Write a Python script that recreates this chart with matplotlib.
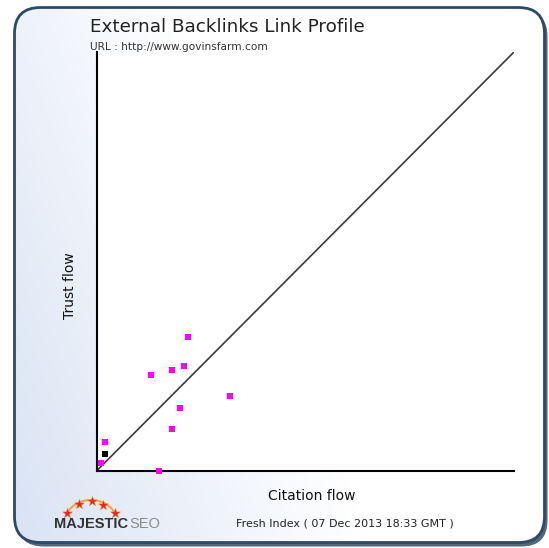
import numpy as np
import matplotlib
matplotlib.use("Agg")
import matplotlib.pyplot as plt
from matplotlib.patches import FancyBboxPatch, Arc

# Data: (citation flow, trust flow)
citation_flow = [22, 13, 18, 21, 32, 20, 18, 2, 1, 15]
trust_flow = [32, 23, 24, 25, 18, 15, 10, 7, 2, 0]
main_citation = [2]
main_trust = [4]
diag = [0, 100]

W, H = 549, 548
fig = plt.figure(figsize=(W / 100, H / 100), dpi=100)

# background layer
bg = fig.add_axes([0, 0, 1, 1])
bg.set_xlim(0, W)
bg.set_ylim(H, 0)
bg.axis("off")

# shadow
shadow = FancyBboxPatch((17.5, 10.5), 530, 536, boxstyle="round,pad=0,rounding_size=26",
                        facecolor="#4f687e", edgecolor="none", zorder=0)
bg.add_patch(shadow)
box = FancyBboxPatch((14.5, 7.5), 530, 535, boxstyle="round,pad=0,rounding_size=26",
                     facecolor="white", edgecolor="none", zorder=1)
bg.add_patch(box)
# gradient
gx = np.linspace(0, 1, 300)
gy = np.linspace(0, 1, 300)
GX, GY = np.meshgrid(gx, gy)
t = np.clip(1 - (GX * 1.5 + (1 - GY) * 0.55), 0, 1)
c0 = np.array([1.0, 1.0, 1.0])
c1 = np.array([0.85, 0.89, 0.955])
img = c0[None, None, :] * (1 - t[..., None]) + c1[None, None, :] * t[..., None]
im = bg.imshow(img, extent=(14.5, 544.5, 542.5, 7.5), zorder=1.5, aspect="auto")
im.set_clip_path(box)
border = FancyBboxPatch((14.5, 7.5), 530, 535, boxstyle="round,pad=0,rounding_size=26",
                        facecolor="none", edgecolor="#2c4a66", linewidth=2.0, zorder=2)
bg.add_patch(border)

# texts
bg.text(90, 27, "External Backlinks Link Profile", fontsize=13.2, color="#222222",
        va="center", ha="left", zorder=3)
bg.text(90, 47, "URL : http://www.govinsfarm.com", fontsize=7.6, color="#333333",
        va="center", ha="left", zorder=3)
bg.text(70, 286, "Trust flow", fontsize=10, rotation=90, color="#111111",
        va="center", ha="center", zorder=3)
bg.text(312, 496, "Citation flow", fontsize=10, color="#111111",
        va="center", ha="center", zorder=3)
bg.text(344.5, 523, "Fresh Index ( 07 Dec 2013 18:33 GMT )", fontsize=8, color="#222222",
        va="center", ha="center", zorder=3)

# logo
bg.text(54, 524, "MAJESTIC", fontsize=10.5, fontweight="bold", color="#333333",
        va="center", ha="left", zorder=3, family="Liberation Sans")
bg.text(129.5, 524, "SEO", fontsize=10.5, color="#8a8a8a", va="center", ha="left",
        zorder=3, family="Liberation Sans")
arc = Arc((91, 522), 52, 44, theta1=200, theta2=340, color="#f2a33a", lw=1.4, zorder=3)
bg.add_patch(arc)
star_x = [66.7, 79.3, 91.7, 103.3, 114.7]
star_y = [512.7, 504.0, 501.0, 505.0, 512.7]
bg.scatter(star_x, star_y, marker="*", s=55, color="#e8241d", edgecolors="#f08020",
           linewidths=0.3, zorder=4)

# main chart
ax = fig.add_axes([96.5 / W, 1 - 471 / H, 417.5 / W, 419 / H])
ax.set_xlim(0, 100)
ax.set_ylim(0, 100)
ax.set_facecolor("white")
ax.plot(diag, diag, color="#3a3a3a", lw=1.2, zorder=2)
ax.scatter(citation_flow, trust_flow, marker="s", s=16, color="#ff00ff",
           linewidths=0, zorder=3, clip_on=False)
ax.scatter(main_citation, main_trust, marker="s", s=16, color="#000000",
           linewidths=0, zorder=3, clip_on=False)
for s in ["top", "right"]:
    ax.spines[s].set_visible(False)
for s in ["left", "bottom"]:
    ax.spines[s].set_linewidth(1.5)
    ax.spines[s].set_color("black")
ax.set_xticks([])
ax.set_yticks([])

fig.savefig("out.png", dpi=100)
